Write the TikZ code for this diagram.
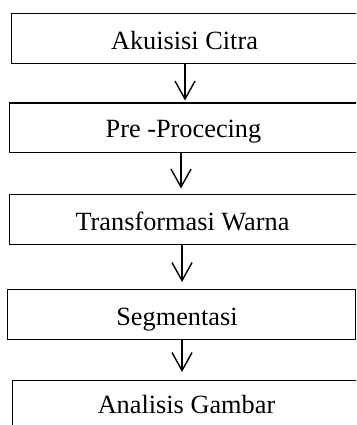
\documentclass[tikz,border=0pt]{standalone}
\usepackage{fontspec}
\setmainfont{Liberation Serif}
\usetikzlibrary{arrows.meta}
\begin{document}
\begin{tikzpicture}[x=1pt,y=1pt,
  stepbox/.style={draw=black, line width=1.4pt, inner sep=0pt, anchor=north west},
  lbl/.style={inner sep=0pt, anchor=base, font=\fontsize{26.3}{30}\selectfont},
  arr/.style={line width=1.4pt, -{Straight Barb[length=18pt,width=20pt,line width=1.4pt]}}]
\useasboundingbox (0,0) rectangle (356,-425);
\begin{scope}
\clip (0,0) rectangle (356,-425);
\node[stepbox, minimum width=600pt, minimum height=50pt] (b1) at (11,-13) {};
\node[stepbox, minimum width=600pt, minimum height=49.5pt] (b2) at (9,-102.5) {};
\node[stepbox, minimum width=600pt, minimum height=50.5pt] (b3) at (9,-193.5) {};
\node[stepbox, minimum width=348pt, minimum height=50pt] (b4) at (7,-289) {};
\node[stepbox, minimum width=600pt, minimum height=80pt] (b5) at (12,-380) {};
\end{scope}
\node[lbl] (t1) at (184.5,-50) {Akuisisi Citra};
\node[lbl] (t2) at (183.5,-137) {Pre -Procecing};
\node[lbl] (t3) at (182.5,-230) {Transformasi Warna};
\node[lbl] (t4) at (177,-325) {Segmentasi};
\node[lbl] (t5) at (186.5,-413) {Analisis Gambar};
\coordinate (x1) at (185,0);
\coordinate (x2) at (181,0);
\coordinate (x3) at (182,0);
\coordinate (x4) at (182,0);
\draw[arr, shorten >=2pt] (x1 |- b1.south) -- (x1 |- b2.north);
\draw[arr, shorten >=5pt] (x2 |- b2.south) -- (x2 |- b3.north);
\draw[arr, shorten >=7pt] (x3 |- b3.south) -- (x3 |- b4.north);
\draw[arr, shorten >=8pt] (x4 |- b4.south) -- (x4 |- b5.north);
\end{tikzpicture}
\end{document}
